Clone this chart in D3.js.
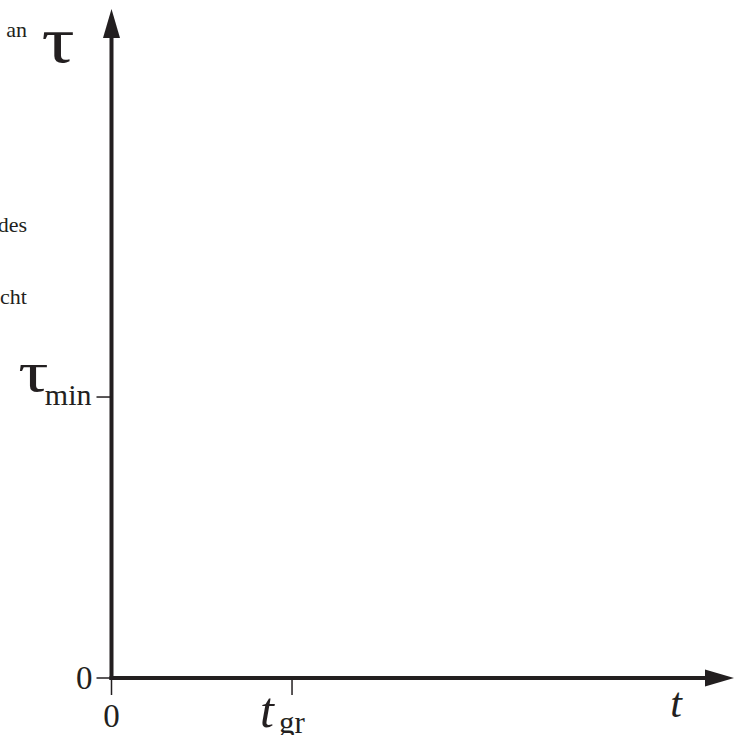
<!DOCTYPE html>
<html>
<head>
<meta charset="utf-8">
<script src="https://cdn.jsdelivr.net/npm/d3@7/dist/d3.min.js"></script>
<style>
  html, body { margin: 0; padding: 0; background: #fff; }
  svg { display: block; }
  text { font-family: "Liberation Serif", "Times New Roman", serif; fill: #231f20; }
</style>
</head>
<body>
<svg id="chart" width="736" height="735"></svg>
<script>
// ---- data ----
const xTickValues = [0, 0.29];
const xTickMain = ["0", "t"];
const xTickSub = ["", "gr"];
const yTickValues = [0, 0.42];
const yTickMain = ["0", "τ"];
const yTickSub = ["", "min"];
const xAxisLabel = "t";
const yAxisLabel = "τ";
const marginTexts = ["an", "des", "cht"];

const ink = "#231f20";
const svg = d3.select("#chart");

const x = d3.scaleLinear().domain([0, 1]).range([111.5, 734]);
const y = d3.scaleLinear().domain([0, 1]).range([678, 9]);

// stray text from the surrounding page (cut by the page edge)
const marginY = [37, 232, 304];
svg.selectAll("text.margin").data(marginTexts).join("text")
  .attr("class", "margin")
  .attr("x", 27).attr("y", (d, i) => marginY[i])
  .attr("text-anchor", "end")
  .style("font-size", "22px")
  .text(d => d);

// axes lines
const x0 = x(0), y0 = y(0);
svg.append("line").attr("x1", x0 - 2).attr("x2", x(1) - 20).attr("y1", y0).attr("y2", y0)
  .attr("stroke", ink).attr("stroke-width", 4);
svg.append("line").attr("x1", x0).attr("x2", x0).attr("y1", y0 + 2).attr("y2", y(1) + 20)
  .attr("stroke", ink).attr("stroke-width", 4);

// arrowheads
svg.append("path")
  .attr("d", `M${x(1)},${y0} L${x(1) - 29},${y0 - 8.5} L${x(1) - 29},${y0 + 8.5} Z`)
  .attr("fill", ink);
svg.append("path")
  .attr("d", `M${x0},${y(1)} L${x0 - 8.5},${y(1) + 29} L${x0 + 8.5},${y(1) + 29} Z`)
  .attr("fill", ink);

// ticks
svg.selectAll("line.xt").data(xTickValues).join("line")
  .attr("class", "xt")
  .attr("x1", d => x(d)).attr("x2", d => x(d))
  .attr("y1", y0).attr("y2", y0 + 17)
  .attr("stroke", ink).attr("stroke-width", 1.5);
svg.selectAll("line.yt").data(yTickValues).join("line")
  .attr("class", "yt")
  .attr("x1", x0 - 15).attr("x2", x0)
  .attr("y1", d => y(d)).attr("y2", d => y(d))
  .attr("stroke", ink).attr("stroke-width", 1.5);

// x tick labels
svg.append("text")
  .attr("x", x(xTickValues[0])).attr("y", 727)
  .attr("text-anchor", "middle")
  .style("font-size", "33px")
  .text(xTickMain[0]);
svg.append("text")
  .attr("x", x(xTickValues[1]) - 32).attr("y", 727)
  .style("font-size", "50px").style("font-style", "italic")
  .text(xTickMain[1]);
svg.append("text")
  .attr("x", x(xTickValues[1]) - 13).attr("y", 733)
  .style("font-size", "31px")
  .text(xTickSub[1]);

// y tick labels
svg.append("text")
  .attr("x", x0 - 19).attr("y", y(yTickValues[0]) + 11)
  .attr("text-anchor", "end")
  .style("font-size", "33px")
  .text(yTickMain[0]);
svg.append("text")
  .attr("x", x0 - 20).attr("y", y(yTickValues[1]) + 8)
  .attr("text-anchor", "end")
  .style("font-size", "30px")
  .text(yTickSub[1]);
svg.append("text")
  .attr("transform", `translate(${x0 - 63},${y(yTickValues[1]) - 6}) scale(1.3,1)`)
  .attr("text-anchor", "end")
  .style("font-size", "58px")
  .text(yTickMain[1]);

// axis titles
svg.append("text").attr("x", 676).attr("y", 717).attr("text-anchor", "middle")
  .style("font-size", "42px").style("font-style", "italic").text(xAxisLabel);
svg.append("text")
  .attr("transform", `translate(58,62) scale(1.25,1)`)
  .attr("text-anchor", "middle")
  .style("font-size", "66px").text(yAxisLabel);
</script>
</body>
</html>
